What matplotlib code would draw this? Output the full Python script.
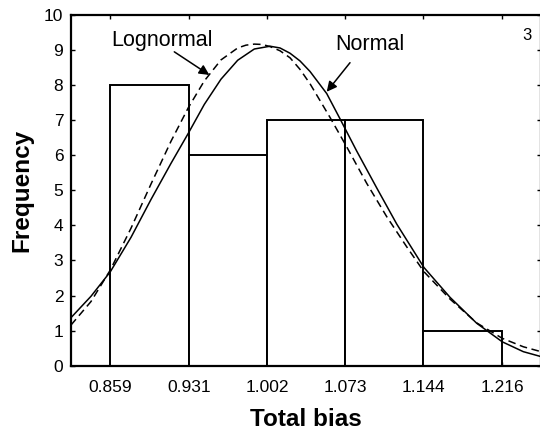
import matplotlib
matplotlib.use("Agg")
import matplotlib.pyplot as plt

plt.rcParams['font.family'] = ['Liberation Sans', 'DejaVu Sans']

# histogram bins (edges) and counts
bin_edges = [0.859, 0.931, 1.002, 1.073, 1.144, 1.216]
counts = [8, 6, 7, 7, 1]
tick_labels = ['0.859', '0.931', '1.002', '1.073', '1.144', '1.216']

# fitted curves, points
norm_x = [0.8235, 0.8417, 0.8593, 0.8781, 0.8963, 0.9145, 0.9303, 0.9448, 0.9600,
          0.9752, 0.9903, 1.0046, 1.0137, 1.0228, 1.0319, 1.0410, 1.0562, 1.0683,
          1.0835, 1.1017, 1.1199, 1.1447, 1.1684, 1.1927, 1.2160, 1.2351, 1.2512]
norm_y = [1.37, 1.98, 2.68, 3.66, 4.74, 5.77, 6.63, 7.45, 8.17,
          8.71, 9.03, 9.11, 9.06, 8.91, 8.69, 8.39, 7.76, 7.04,
          6.12, 5.07, 4.04, 2.80, 1.95, 1.21, 0.68, 0.40, 0.26]

logn_x = [0.8235, 0.8417, 0.8593, 0.8781, 0.8963, 0.9145, 0.9303, 0.9448, 0.9600,
          0.9752, 0.9827, 0.9903, 0.9975, 1.0046, 1.0137, 1.0228, 1.0319, 1.0410,
          1.0592, 1.0744, 1.0926, 1.1108, 1.1290, 1.1447, 1.1684, 1.1927, 1.2160,
          1.2351, 1.2512]
logn_y = [1.16, 1.83, 2.73, 3.92, 5.18, 6.40, 7.36, 8.12, 8.72,
          9.06, 9.14, 9.17, 9.16, 9.10, 8.98, 8.78, 8.45, 8.04,
          7.08, 6.24, 5.20, 4.25, 3.39, 2.68, 1.90, 1.22, 0.78,
          0.54, 0.40]

fig = plt.figure(figsize=(5.4, 4.33), dpi=100)
ax = fig.add_axes([71 / 540, 1 - 365.7 / 433, 470 / 540, 350.7 / 433])

widths = [b - a for a, b in zip(bin_edges[:-1], bin_edges[1:])]
ax.bar(bin_edges[:-1], counts, width=widths, align='edge',
       facecolor='white', edgecolor='black', linewidth=1.4, zorder=2)

ax.plot(norm_x, norm_y, color='black', lw=1.1, zorder=3)
ax.plot(logn_x, logn_y, color='black', lw=1.1, ls=(0, (5, 3)), zorder=3)

ax.set_xlim(0.8235, 1.2512)
ax.set_ylim(0, 10)
ax.set_xticks(bin_edges)
ax.set_xticklabels(tick_labels)
ax.set_yticks(range(0, 11))
ax.tick_params(direction='in', top=True, right=True, length=3, width=1,
               labelsize=12.5)
ax.tick_params(axis='x', pad=10)
ax.tick_params(axis='y', pad=5.5)
for s in ax.spines.values():
    s.set_linewidth(1.6)

ax.set_xlabel('Total bias', fontsize=17.5, fontweight='bold', va='baseline')
ax.xaxis.set_label_coords(0.5, (365.7 - 426) / 350.7)
ax.set_ylabel('Frequency', fontsize=17.5, fontweight='bold')
ax.yaxis.set_label_coords((33 - 71) / 470, 0.5)

arrow = dict(arrowstyle='-|>', color='black', lw=1.1, mutation_scale=15,
             shrinkA=0, shrinkB=0)
ax.text(0.906, 9.12, 'Lognormal', ha='center', va='baseline', fontsize=15.5)
ax.annotate('', xy=(0.9494, 8.29), xytext=(0.9175, 8.95), arrowprops=arrow)
ax.text(1.0956, 9.00, 'Normal', ha='center', va='baseline', fontsize=15.5)
ax.annotate('', xy=(1.0562, 7.81), xytext=(1.0774, 8.64), arrowprops=arrow)

fig.text(527 / 540, 1 - 35 / 433, '3', ha='center', va='center', fontsize=12)

fig.savefig('out.png', dpi=100)
